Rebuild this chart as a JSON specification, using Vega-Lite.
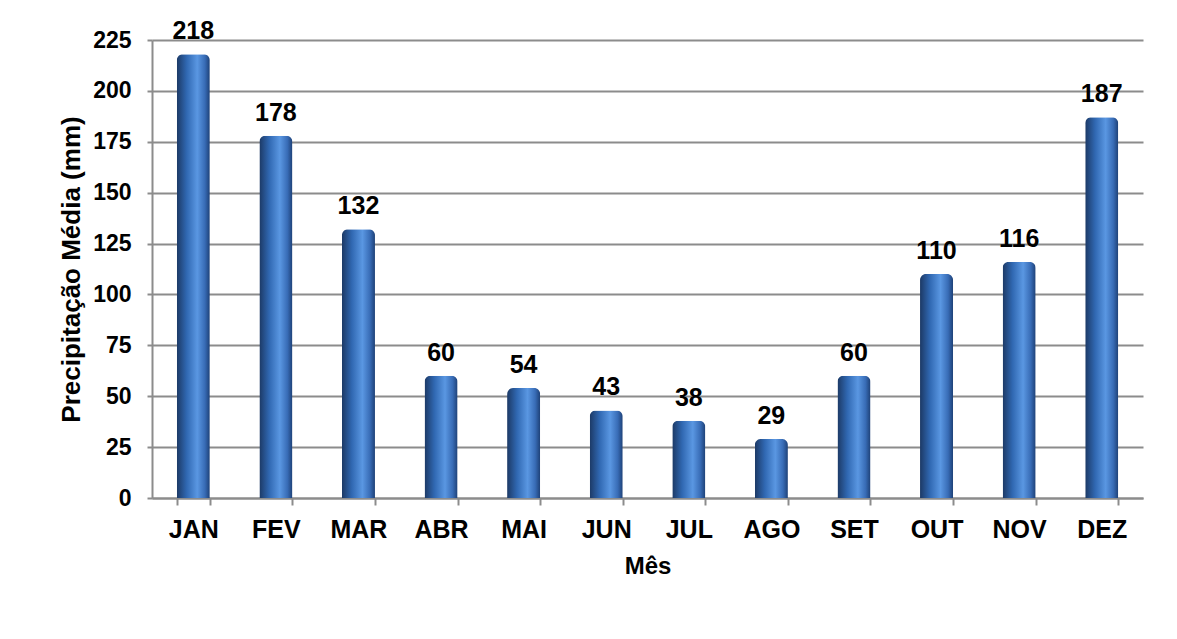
{
  "$schema": "https://vega.github.io/schema/vega-lite/v6.json",
  "width": 991,
  "height": 458,
  "autosize": {"type": "none"},
  "padding": {"left": 152, "top": 40, "right": 34, "bottom": 141},
  "background": "white",
  "config": {
    "view": {"stroke": null},
    "font": "Liberation Sans"
  },
  "data": {
    "values": [
      {"mes": "JAN", "valor": 218},
      {"mes": "FEV", "valor": 178},
      {"mes": "MAR", "valor": 132},
      {"mes": "ABR", "valor": 60},
      {"mes": "MAI", "valor": 54},
      {"mes": "JUN", "valor": 43},
      {"mes": "JUL", "valor": 38},
      {"mes": "AGO", "valor": 29},
      {"mes": "SET", "valor": 60},
      {"mes": "OUT", "valor": 110},
      {"mes": "NOV", "valor": 116},
      {"mes": "DEZ", "valor": 187}
    ]
  },
  "encoding": {
    "x": {
      "field": "mes", "type": "nominal", "sort": null,
      "scale": {"paddingInner": 0.6, "paddingOuter": 0.3},
      "axis": {
        "title": "Mês", "titleFont": "Liberation Sans", "titleFontSize": 24, "titleFontWeight": "bold", "titleColor": "black", "titlePadding": 12,
        "labelAngle": 0, "labelFont": "Liberation Sans", "labelFontSize": 25, "labelFontWeight": "bold", "labelColor": "black", "labelPadding": 12,
        "domainColor": "#8c8c8c", "domainWidth": 2,
        "tickBand": "extent", "tickColor": "#8c8c8c", "tickWidth": 2, "tickSize": 7,
        "grid": false
      }
    },
    "y": {
      "field": "valor", "type": "quantitative",
      "scale": {"domain": [0, 225], "nice": false},
      "axis": {
        "title": "Precipitação Média (mm)", "titleFont": "Liberation Sans", "titleFontSize": 26, "titleFontWeight": "bold", "titleColor": "black", "titlePadding": 8,
        "values": [0, 25, 50, 75, 100, 125, 150, 175, 200, 225],
        "labelFont": "Liberation Sans", "labelFontSize": 23, "labelFontWeight": "bold", "labelColor": "black", "labelPadding": 16,
        "domainColor": "#8c8c8c", "domainWidth": 2,
        "tickColor": "#8c8c8c", "tickWidth": 2, "tickSize": 5,
        "grid": true, "gridColor": "#8c8c8c", "gridWidth": 2
      }
    }
  },
  "layer": [
    {
      "mark": {
        "type": "bar",
        "cornerRadiusTopLeft": 6, "cornerRadiusTopRight": 6,
        "color": {
          "gradient": "linear", "x1": 0, "x2": 1, "y1": 0, "y2": 0,
          "stops": [
            {"offset": 0, "color": "#1c3965"},
            {"offset": 0.3, "color": "#3068b2"},
            {"offset": 0.62, "color": "#5a97e2"},
            {"offset": 0.85, "color": "#386cb6"},
            {"offset": 1, "color": "#1e4177"}
          ]
        }
      }
    },
    {
      "mark": {"type": "text", "dy": -15, "baseline": "alphabetic", "font": "Liberation Sans", "fontSize": 25, "fontWeight": "bold", "color": "black"},
      "encoding": {"text": {"field": "valor", "type": "quantitative"}}
    }
  ]
}
